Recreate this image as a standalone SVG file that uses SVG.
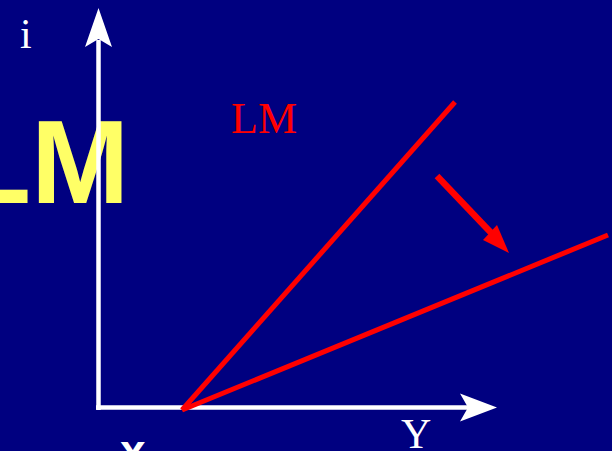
<svg xmlns="http://www.w3.org/2000/svg" width="612" height="451" viewBox="0 0 612 451">
<style>
.ax{stroke:#ffffff;stroke-width:4.5;fill:none}
.red{stroke:#ff0000;stroke-width:5;fill:none;stroke-linecap:butt}
.serif{font-family:"Liberation Serif","Times New Roman",serif}
</style>
<rect x="0" y="0" width="612" height="451" fill="#000080"/>
<g id="bigLM">
<text x="-41" y="203" font-family="Liberation Sans, Arial, sans-serif" font-weight="bold" font-size="118" fill="#ffff66">LM</text>
</g>
<g id="connectors">
<line class="ax" x1="98.5" y1="410" x2="98.5" y2="40"/>
<polygon points="98.5,8 112,47 98.5,39 85,47" fill="#ffffff"/>
<line class="ax" x1="96" y1="407.5" x2="470" y2="407.5"/>
<polygon points="497,407.5 460,421.5 468,407.5 460,393.5" fill="#ffffff"/>
<line class="red" x1="182" y1="410" x2="455" y2="102"/>
<line class="red" x1="182" y1="410" x2="608" y2="235"/>
<line x1="437" y1="176" x2="497" y2="239" stroke="#ff0000" stroke-width="6.5"/>
<polygon points="509,253 483,240 497,225" fill="#ff0000"/>
</g>
<g id="labels">
<text class="serif" x="20" y="48" font-size="42" fill="#ffffff">i</text>
<text class="serif" x="231" y="133" font-size="44" fill="#ff0000">LM</text>
<text class="serif" x="401" y="448" font-size="42" fill="#ffffff">Y</text>
<text x="120" y="467" font-family="Liberation Sans, Arial, sans-serif" font-weight="bold" font-size="46" fill="#ffffff">x</text>
</g>
</svg>
